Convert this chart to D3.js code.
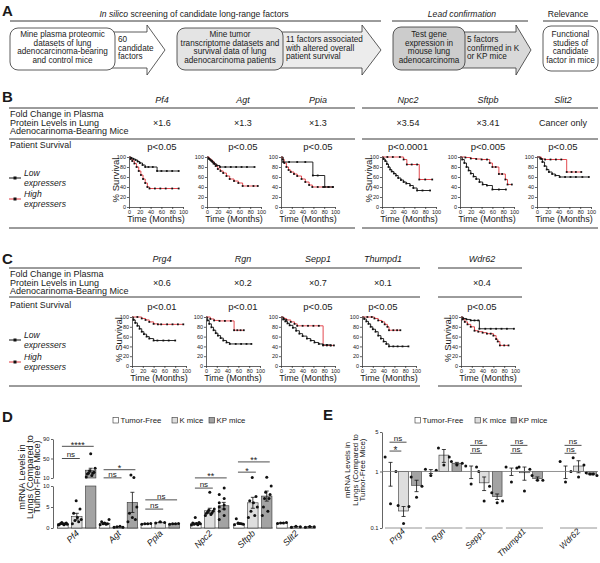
<!DOCTYPE html>
<html><head><meta charset="utf-8">
<script src="https://cdn.jsdelivr.net/npm/d3@7"></script>
<style>body{margin:0;background:#fff}svg{display:block}text{font-family:"Liberation Sans",Arial,Helvetica,sans-serif;fill:#1a1a1a}</style>
</head><body><svg id="c" width="600" height="563"></svg>
<script>
// ---------------- DATA ----------------
const flowHeaders = ["screening of candidate long-range factors", "Lead confirmation", "Relevance"];
const flowBoxes = [
  ["Mine plasma proteomic","datasets of lung","adenocarcinoma-bearing","and control mice"],
  ["Mine tumor","transcriptome datasets and","survival data of lung","adenocarcinoma patients"],
  ["Test gene","expression in","mouse lung","adenocarcinoma"],
  ["Functional","studies of","candidate","factor in mice"]];
const flowArrows = [["60","candidate","factors"],["11 factors associated","with altered overall","patient survival"],["5 factors","confirmed in K","or KP mice"]];

const rowLabel = ["Fold Change in Plasma","Protein Levels in Lung","Adenocarinoma-Bearing Mice"];
const genesB = ["Pf4","Agt","Ppia","Npc2","Sftpb","Slit2"];
const foldB = ["×1.6","×1.3","×1.3","×3.54","×3.41","Cancer only"];
const pB = ["p<0.05","p<0.05","p<0.05","p<0.0001","p<0.005","p<0.05"];
const lowB = [
 [[0,100],[4,98],[8,96],[12,94],[16,91],[20,88],[25,84],[30,80],[36,80],[44,80],[52,72],[60,72],[70,72],[80,72],[92,72]],
 [[0,100],[3,97],[6,94],[10,90],[14,86],[18,83],[24,80],[34,80],[44,80],[54,80],[64,80],[74,80],[88,80]],
 [[0,100],[4,90],[15,90],[30,90],[45,90],[59,63],[68,63],[81,40],[88,40],[96,40]],
 [[0,100],[3,96],[6,92],[9,86],[12,80],[15,75],[18,71],[22,67],[26,63],[30,58],[35,54],[40,50],[45,47],[52,43],[58,38],[65,33],[75,33],[89,33]],
 [[0,100],[4,95],[8,88],[12,80],[16,73],[20,67],[25,61],[30,56],[36,50],[42,45],[50,43],[60,35],[72,35],[85,35]],
 [[0,100],[6,97],[10,90],[14,82],[18,75],[22,70],[28,66],[34,63],[42,60],[52,60],[62,60],[72,60],[84,60],[96,60]]];
const highB = [
 [[0,100],[3,96],[6,92],[10,87],[14,80],[18,72],[22,64],[26,56],[30,48],[34,40],[38,37],[48,37],[58,37],[68,37],[80,37],[92,37]],
 [[0,100],[4,96],[8,92],[12,87],[16,82],[20,76],[25,72],[30,68],[36,62],[42,56],[50,52],[58,48],[66,42],[76,42],[86,42],[94,42]],
 [[0,100],[3,95],[6,88],[10,80],[14,74],[18,70],[24,66],[30,62],[38,56],[45,50],[52,44],[58,40],[68,40],[78,40],[88,40],[96,40]],
 [[0,100],[10,100],[20,100],[33,100],[40,95],[46,85],[55,85],[65,85],[69,55],[80,55],[93,55]],
 [[0,100],[10,99],[20,97],[30,96],[40,95],[50,95],[55,88],[60,80],[66,80],[72,66],[78,66],[84,55],[88,45],[96,45]],
 [[0,100],[8,96],[15,95],[25,95],[35,95],[45,95],[55,70],[64,70],[72,70],[82,70]]];

const genesC = ["Prg4","Rgn","Sepp1","Thumpd1","Wdr62"];
const foldC = ["×0.6","×0.2","×0.7","×0.1","×0.4"];
const pC = ["p<0.01","p<0.01","p<0.05","p<0.05","p<0.05"];
const lowC = [
 [[0,100],[3,94],[6,88],[10,82],[14,76],[18,70],[22,65],[27,60],[32,56],[40,52],[47,52],[58,52],[68,52],[80,52]],
 [[0,100],[3,93],[6,86],[10,79],[14,73],[18,67],[22,62],[27,57],[32,52],[38,48],[44,45],[55,45],[65,45],[75,45],[84,45]],
 [[0,100],[4,95],[8,91],[12,87],[16,83],[22,78],[28,72],[34,66],[40,61],[48,56],[55,52],[62,48],[70,45],[78,43],[85,43],[92,42]],
 [[0,100],[4,96],[8,91],[12,86],[16,80],[20,75],[25,70],[30,62],[35,56],[40,50],[45,45],[50,40],[58,40],[66,40],[75,40],[86,40]],
 [[0,100],[4,97],[10,95],[18,93],[25,93],[32,93],[34,76],[45,76],[55,76],[65,76],[75,76],[85,76],[98,76]]];
const highC = [
 [[0,100],[10,100],[18,97],[25,94],[32,90],[40,86],[48,85],[54,85],[65,85],[75,85],[85,85],[95,85]],
 [[0,100],[8,96],[15,93],[25,92],[35,92],[46,92],[52,73],[58,73],[64,73],[70,73]],
 [[0,100],[5,97],[10,94],[18,90],[25,86],[30,82],[40,82],[50,82],[60,82],[70,82],[78,42],[85,42],[92,42],[98,42]],
 [[0,100],[10,100],[18,100],[23,97],[30,93],[37,90],[42,85],[47,80],[50,73],[58,73],[65,73],[71,73]],
 [[0,100],[3,95],[7,90],[12,85],[18,80],[25,72],[32,70],[40,68],[48,66],[55,66],[60,62],[65,55],[68,50],[72,42],[80,42],[88,42]]];
const kmTicks = [0,20,40,60,80,100];

const seriesNames = ["Tumor-Free","K mice","KP mice"];
const genesD = ["Pf4","Agt","Ppia","Npc2","Sftpb","Slit2"];
const meanD = [[1.0,2.7,26],[1.1,0.3,6.1],[1.0,1.35,1.0],[1.0,4.1,5.3],[1.0,6.0,7.6],[1.2,0.3,0.3]];
const semD  = [[0.1,0.8,4],[0.15,0.05,2.4],[0.05,0.1,0.05],[0.2,0.6,0.8],[0.15,1.3,1.2],[0.05,0.05,0.05]];
const ptsD = [
 [[0.7,0.8,0.9,1.0,1.1,1.2,1.3,0.9,1.0],[1.0,1.5,1.8,2.0,2.5,3.5,4.5,6.5],[12,15,18,20,20,22,25,30,60]],
 [[0.8,1.0,1.2,1.5,2.0,0.9,1.0],[0.15,0.3,0.4,0.2],[1.5,2,2.5,3.5,5,11,16]],
 [[0.9,1.0,1.0,1.1],[1.2,1.3,1.5],[0.9,1.0,1.0,1.1]],
 [[0.7,0.8,0.9,1.0,1.1,1.2,1.3,2.5],[3.0,3.2,3.5,3.6,3.8,4.0,4.2,4.5,8.5],[2.0,3.0,4.0,4.5,5.0,5.5,6.0,7.0,8.0,9.5]],
 [[0.8,0.9,1.0,1.1,1.2,2.2],[2.5,3.0,4.0,5.0,6.0,6.5,7.5,11],[3.0,4.0,5.0,7.0,7.0,8.0,8.5,10.0,11.5]],
 [[1.1,1.2,1.2,1.3],[0.2,0.3,0.4],[0.2,0.3,0.35]]];
const sigD = [["Pf4",0,2,"****",75],["Pf4",0,1,"ns",50],["Agt",0,2,"*",27],["Agt",0,1,"ns",10.3],
  ["Ppia",0,2,"ns",6.7],["Ppia",0,1,"ns",4.5],["Npc2",0,2,"**",10.2],["Npc2",0,1,"ns",9.5],
  ["Sftpb",0,2,"**",43],["Sftpb",0,1,"*",22]];
const ticksDlow = [0,5,10], ticksDhigh = [10,50,90];

const genesE = ["Prg4","Rgn","Sepp1","Thumpd1","Wdr62"];
const meanE = [[1.0,0.2,0.57],[1.0,1.95,1.4],[1.0,0.63,0.36],[1.0,0.95,0.75],[1.0,1.25,0.9]];
const semE  = [[0.45,0.04,0.13],[0.08,0.5,0.05],[0.25,0.17,0.04],[0.15,0.25,0.05],[0.25,0.3,0.03]];
const ptsE = [
 [[1.8,1.0,0.27],[0.25,0.24,0.12],[0.8,0.55,0.35]],
 [[1.1,1.05,0.85],[2.6,1.8,1.3],[1.5,1.4,1.3]],
 [[1.25,1.2,0.6],[1.0,0.55,0.3],[0.42,0.3,0.28]],
 [[1.2,1.15,0.65],[1.2,1.1,0.45],[0.85,0.7,0.7]],
 [[1.5,1.0,0.65],[1.75,1.3,0.8],[0.95,0.9,0.9,0.85]]];
const sigE = [["Prg4",0,1,"ns",3.3],["Prg4",0,0.6,"*",2.3],["Sepp1",0,1,"ns",2.9],["Sepp1",0,0.6,"ns",2.1],
  ["Thumpd1",0,1,"ns",2.9],["Thumpd1",0,0.6,"ns",2.1],["Wdr62",0,1,"ns",2.9],["Wdr62",0,0.6,"ns",2.1]];
const ticksE = [0.1,1,5];
const fills = ["#ffffff","#dedede","#a3a3a3"];

// ---------------- HELPERS ----------------
const svg = d3.select("#c");
function txt(x,y,s,o={}){const t=svg.append("text").attr("x",x).attr("y",y).text(s).attr("font-size",o.size||8.5).attr("text-anchor",o.anchor||"start");
  if(o.italic)t.attr("font-style","italic"); if(o.bold)t.attr("font-weight","bold"); if(o.fill)t.attr("fill",o.fill); return t;}
function hline(x1,x2,y,o={}){svg.append("line").attr("x1",x1).attr("x2",x2).attr("y1",y).attr("y2",y).attr("stroke",o.color||"#222").attr("stroke-width",o.w||0.9);}
function styleAxis(a,fs){a.selectAll("text").attr("font-size",fs).attr("fill","#222").attr("font-family",'"Liberation Sans",Arial,sans-serif');
  a.selectAll("line,path").attr("stroke","#222").attr("stroke-width",0.7);}

// ---------------- PANEL LABELS ----------------
[["A",2,16],["B",2,102],["C",2,264],["D",2,422],["E",323,420]].forEach(d=>txt(d[1],d[2],d[0],{size:15,bold:true}));

// ---------------- PANEL A ----------------
{ const h=txt(194,17,"",{size:8.6,anchor:"middle"});
  h.append("tspan").attr("font-style","italic").text("In silico ");
  h.append("tspan").text(flowHeaders[0]);
  txt(462,17,flowHeaders[1],{size:8.6,anchor:"middle",italic:true});
  txt(568,17,flowHeaders[2],{size:8.6,anchor:"middle"});
  hline(10,381,21); hline(392,528,21); hline(543,598,21);
  const arrows=[[110,147,165,"#ffffff"],[278,362,381,"#ececec"],[460,516,531,"#d9d9d9"]];
  arrows.forEach(a=>{svg.append("path").attr("d",`M${a[0]},32 L${a[1]},32 L${a[1]},25 L${a[2]},50 L${a[1]},75 L${a[1]},68 L${a[0]},68 Z`)
    .attr("fill",a[3]).attr("stroke","#333").attr("stroke-width",0.8);});
  const boxes=[[10,28,115,70,"#ffffff"],[177,28,283,70,"#e4e4e4"],[393,27,465,70,"#cccccc"],[543,26,598,71,"#ffffff"]];
  boxes.forEach((b,i)=>{svg.append("rect").attr("x",b[0]).attr("y",b[1]).attr("width",b[2]-b[0]).attr("height",b[3]-b[1]).attr("rx",8)
    .attr("fill",b[4]).attr("stroke","#333").attr("stroke-width",0.8);
    flowBoxes[i].forEach((l,j)=>txt((b[0]+b[2])/2,37+j*8.7,l,{size:8.2,anchor:"middle"}));});
  const ax=[118,286,467];
  flowArrows.forEach((ls,i)=>ls.forEach((l,j)=>txt(ax[i],42+j*8.5,l,{size:8.2})));
}

// ---------------- KM ----------------
const KMW=54;
function drawKM(x0,yTop,yBot,low,high,showLabel){
  const x=d3.scaleLinear().domain([0,100]).range([x0,x0+KMW]);
  const y=d3.scaleLinear().domain([0,100]).range([yBot,yTop]);
  const g=svg.append("g");
  const ay=g.append("g").attr("transform",`translate(${x0},0)`).call(d3.axisLeft(y).tickValues(kmTicks).tickSize(2).tickSizeOuter(0).tickPadding(1));
  const axx=g.append("g").attr("transform",`translate(0,${yBot})`).call(d3.axisBottom(x).tickValues(kmTicks).tickSize(2).tickSizeOuter(0).tickPadding(1));
  styleAxis(ay,5.5); styleAxis(axx,5.5);
  const line=d3.line().x(d=>x(d[0])).y(d=>y(d[1])).curve(d3.curveStepAfter);
  g.append("path").datum(high).attr("d",line).attr("fill","none").attr("stroke","#e0363c").attr("stroke-width",0.9);
  g.append("path").datum(low).attr("d",line).attr("fill","none").attr("stroke","#111").attr("stroke-width",0.9);
  [high,low].forEach(arr=>g.selectAll(null).data(arr.slice(1)).enter().append("rect")
    .attr("x",d=>x(d[0])-0.9).attr("y",d=>y(d[1])-0.9).attr("width",1.8).attr("height",1.8).attr("fill","#111"));
  g.append("text").attr("x",x0+KMW/2).attr("y",yBot+15).attr("text-anchor","middle").attr("font-size",9).text("Time (Months)");
  if(showLabel) g.append("text").attr("transform",`translate(${x0-10},${(yTop+yBot)/2-2}) rotate(-90)`).attr("text-anchor","middle").attr("font-size",9.5).text("% Survival");
}
function legendKM(yLow,yHigh){
  [[yLow,"#111","Low"],[yHigh,"#e0363c","High"]].forEach(d=>{
    hline(9,21,d[0],{color:d[1],w:1});
    svg.append("rect").attr("x",13.5).attr("y",d[0]-1.5).attr("width",3).attr("height",3).attr("fill","#111");
    txt(24,d[0]-2,d[2],{size:8.6,italic:true}); txt(24,d[0]+7.6,"expressers",{size:8.6,italic:true});
  });
}

// ---------------- PANEL B ----------------
{ const cx=[162,243,318,408,488,563], x0=[129,207,281,382,460,537];
  genesB.forEach((g,i)=>txt(cx[i],103,g,{size:9,italic:true,anchor:"middle"}));
  [108,139].forEach(y=>{hline(9,355,y);hline(362,598,y);});
  rowLabel.forEach((l,j)=>txt(10,117+j*8.6,l,{size:9}));
  foldB.forEach((v,i)=>txt(cx[i],126,v,{size:9,anchor:"middle"}));
  txt(10,148,"Patient Survival",{size:8.8});
  pB.forEach((v,i)=>txt(cx[i],150,v,{size:9.5,anchor:"middle"}));
  genesB.forEach((g,i)=>drawKM(x0[i],157,207,lowB[i],highB[i],i===0||i===3));
  hline(9,355,228); hline(362,598,228);
  legendKM(178,199);
}
// ---------------- PANEL C ----------------
{ const cx=[162,243,318,383,482], x0=[132,206,281,362,461];
  genesC.forEach((g,i)=>txt(cx[i],262,g,{size:9,italic:true,anchor:"middle"}));
  [268,297].forEach(y=>{hline(9,420,y);hline(438,522,y);});
  rowLabel.forEach((l,j)=>txt(10,277+j*8.5,l,{size:9}));
  foldC.forEach((v,i)=>txt(cx[i],286,v,{size:9,anchor:"middle"}));
  txt(10,308,"Patient Survival",{size:8.8});
  pC.forEach((v,i)=>txt(cx[i],310,v,{size:9.5,anchor:"middle"}));
  genesC.forEach((g,i)=>drawKM(x0[i],317,366,lowC[i],highC[i],i===0||i===4));
  hline(9,420,386); hline(438,522,386);
  legendKM(340,362);
}

// ---------------- BAR HELPERS ----------------
function legendBars(xs,y){seriesNames.forEach((n,i)=>{svg.append("rect").attr("x",xs[i]).attr("y",y-5.5).attr("width",5.5).attr("height",5.5)
  .attr("fill",fills[i]).attr("stroke","#333").attr("stroke-width",0.6); txt(xs[i]+7.5,y,n,{size:7.8});});}
function jit(i,n,bw){ if(n<2) return 0; return (((i*5)%n)/(n-1)-0.5)*bw*0.85; }

// ---------------- PANEL D ----------------
{ const yLo=d3.scaleLinear().domain([0,10]).range([528,486]);
  const yHi=d3.scaleLinear().domain([10,90]).range([478,439]);
  const yD=v=>v<=10?yLo(v):yHi(v);
  const xA=d3.scaleBand().domain(genesD.slice(0,3)).range([57,180]).paddingInner(0.05);
  const xB=d3.scaleBand().domain(genesD.slice(3)).range([190,317]).paddingInner(0.05);
  const xG=g=>xA.domain().includes(g)?xA(g):xB(g);
  const bw=xA.bandwidth();
  const xs=d3.scaleBand().domain([0,1,2]).range([0,bw]).paddingInner(0.25).paddingOuter(0.05);
  const cxb=(g,k)=>xG(g)+xs(k)+xs.bandwidth()/2;
  const cxf=(g,f)=>cxb(g,0)+f*xs.step();
  legendBars([113,172,209],423);
  const al=svg.append("g").attr("transform","translate(53,0)").call(d3.axisLeft(yLo).tickValues(ticksDlow).tickSize(2).tickSizeOuter(0).tickPadding(1.5));
  const ah=svg.append("g").attr("transform","translate(53,0)").call(d3.axisLeft(yHi).tickValues(ticksDhigh).tickSize(2).tickSizeOuter(0).tickPadding(1.5));
  styleAxis(al,5.8); styleAxis(ah,5.8);
  ["mRNA Levels in","Lungs (Compared to","Tumor-Free Mice)"].forEach((l,j)=>svg.append("text")
    .attr("transform",`translate(${25+j*7.5},477) rotate(-90)`).attr("text-anchor","middle").attr("font-size",9.2).text(l));
  genesD.forEach((g,gi)=>{
    hline(xG(g),xG(g)+bw,528,{w:0.8});
    [0,1,2].forEach(k=>{
      const m=meanD[gi][k], s=semD[gi][k], x=xG(g)+xs(k), w=xs.bandwidth(), c=x+w/2;
      if(m<=10){ svg.append("rect").attr("x",x).attr("y",yD(m)).attr("width",w).attr("height",528-yD(m)).attr("fill",fills[k]).attr("stroke","#333").attr("stroke-width",0.6);}
      else { svg.append("rect").attr("x",x).attr("y",yLo(10)).attr("width",w).attr("height",528-yLo(10)).attr("fill",fills[k]).attr("stroke","#333").attr("stroke-width",0.6);
        svg.append("rect").attr("x",x).attr("y",yHi(m)).attr("width",w).attr("height",yHi(10)-yHi(m)).attr("fill",fills[k]).attr("stroke","#333").attr("stroke-width",0.6);}
      const lo=yD(Math.max(0,m-s)), hi=yD(m+s);
      svg.append("line").attr("x1",c).attr("x2",c).attr("y1",lo).attr("y2",hi).attr("stroke","#111").attr("stroke-width",0.8);
      [lo,hi].forEach(yy=>svg.append("line").attr("x1",c-2).attr("x2",c+2).attr("y1",yy).attr("y2",yy).attr("stroke","#111").attr("stroke-width",0.8));
      const pts=ptsD[gi][k];
      pts.forEach((v,i)=>svg.append("circle").attr("cx",c+jit(i,pts.length,w)).attr("cy",yD(v)).attr("r",1.5).attr("fill","#111"));
    });
    svg.append("text").attr("transform",`translate(${xG(g)+bw/2+3},534) rotate(-45)`).attr("text-anchor","end").attr("font-size",9).attr("font-style","italic").text(g);
  });
  sigD.forEach(s=>{const x1=cxf(s[0],s[1])-1, x2=cxf(s[0],s[2])+3, y=yD(s[4]);
    hline(x1,x2,y,{w:0.8});
    const star=s[3].includes("*");
    txt((x1+x2)/2,star?y+1.5:y-1.2,s[3],{size:star?9:8,anchor:"middle"});});
}

// ---------------- PANEL E ----------------
{ const yE=d3.scaleLog().domain([0.1,5]).range([528,432]);
  const xA=d3.scaleBand().domain(genesE.slice(0,4)).range([385,543]).paddingInner(0.08);
  const xB=d3.scaleBand().domain(genesE.slice(4)).range([560,596]);
  const xG=g=>xA.domain().includes(g)?xA(g):xB(g);
  const bw=xA.bandwidth();
  const xs=d3.scaleBand().domain([0,1,2]).range([0,bw]).paddingInner(0.25).paddingOuter(0.05);
  const cxf=(g,f)=>xG(g)+xs(0)+xs.bandwidth()/2+f*xs.step();
  legendBars([415,475,511],423);
  const ax=svg.append("g").attr("transform","translate(382,0)").call(d3.axisLeft(yE).tickValues(ticksE).tickFormat(d3.format("")).tickSize(2).tickSizeOuter(0).tickPadding(1.5));
  styleAxis(ax,5.8);
  ["mRNA Levels in","Lungs (Compared to","Tumor-Free Mice)"].forEach((l,j)=>svg.append("text")
    .attr("transform",`translate(${350+j*7.5},470) rotate(-90)`).attr("text-anchor","middle").attr("font-size",7.9).text(l));
  genesE.forEach((g,gi)=>{
    hline(xG(g),xG(g)+bw,528,{color:"#888",w:0.9});
    [0,1,2].forEach(k=>{
      const m=meanE[gi][k], s=semE[gi][k], w=xs.bandwidth(), x=xG(g)+xs(k), c=x+w/2;
      svg.append("rect").attr("x",x).attr("y",Math.min(yE(1),yE(m))).attr("width",w).attr("height",Math.abs(yE(1)-yE(m))).attr("fill",fills[k]).attr("stroke","#333").attr("stroke-width",0.6);
      const lo=yE(m-s), hi=yE(m+s);
      svg.append("line").attr("x1",c).attr("x2",c).attr("y1",lo).attr("y2",hi).attr("stroke","#111").attr("stroke-width",0.8);
      [lo,hi].forEach(yy=>svg.append("line").attr("x1",c-2).attr("x2",c+2).attr("y1",yy).attr("y2",yy).attr("stroke","#111").attr("stroke-width",0.8));
      const pts=ptsE[gi][k];
      pts.forEach((v,i)=>svg.append("circle").attr("cx",c+jit(i,pts.length,w)*1.3).attr("cy",yE(v)).attr("r",1.5).attr("fill","#111"));
    });
    svg.append("text").attr("transform",`translate(${xG(g)+bw/2+2},532) rotate(-45)`).attr("text-anchor","end").attr("font-size",8.5).attr("font-style","italic").text(g);
  });
  hline(382,598,yE(1),{color:"#777",w:0.8});
  sigE.forEach(s=>{const x1=cxf(s[0],s[1])-1, x2=cxf(s[0],s[2])+3, y=yE(s[4]);
    hline(x1,x2,y,{w:0.8});
    const star=s[3].includes("*");
    txt((x1+x2)/2,star?y+2.5:y-1.2,s[3],{size:star?10:8,anchor:"middle"});});
}
</script></body></html>
